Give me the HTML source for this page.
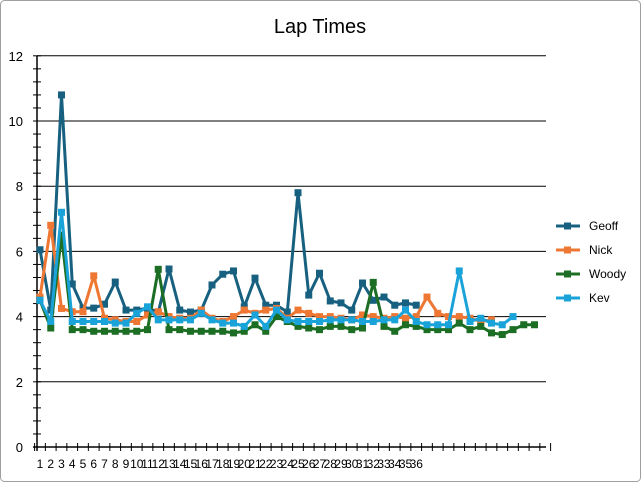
<!DOCTYPE html>
<html><head><meta charset="utf-8"><style>
html,body{margin:0;padding:0;background:#fff;}
#c{position:absolute;left:0;top:0;}
</style></head><body>
<svg id="c" width="641" height="482" xmlns="http://www.w3.org/2000/svg" font-family="Liberation Sans, sans-serif">
<rect x="0.5" y="0.5" width="640" height="481" rx="4" fill="#fff" stroke="#a0a0a0"/>
<text x="320" y="33" text-anchor="middle" font-size="20" fill="#000">Lap Times</text>
<g id="g"></g>
</svg>
<script>
var g=document.getElementById('g');var s='';
function Y(v){return 447-v*32.6;}
function X(i){return 40+(i-1)*10.75;}
for(var v=2;v<=12;v+=2){s+='<line x1="37" x2="546" y1="'+Y(v)+'" y2="'+Y(v)+'" stroke="#000" stroke-width="1"/>';}
for(var v=0;v<=12;v+=2){s+='<text x="23" y="'+(Y(v)+5)+'" text-anchor="end" font-size="13">'+v+'</text>';}
for(var k=0;k<=30;k++){var y=Y(k*0.4);s+='<line x1="33" x2="41" y1="'+y+'" y2="'+y+'" stroke="#000"/>';}
s+='<line x1="37" x2="37" y1="56" y2="451" stroke="#000" stroke-width="1.5"/>';
s+='<line x1="33" x2="546" y1="447" y2="447" stroke="#000" stroke-width="1.5"/>';
for(var i=0;i<=48;i++){var x=34.6+i*10.75;s+='<line x1="'+x+'" x2="'+x+'" y1="443" y2="451" stroke="#000"/>';}
for(var i=1;i<=36;i++){s+='<text x="'+X(i)+'" y="468" text-anchor="middle" font-size="12">'+i+'</text>';}
var D={
'#17607f':[6.05,4.2,10.8,5.0,4.26,4.26,4.38,5.06,4.2,4.2,4.26,4.14,5.46,4.2,4.14,4.2,4.97,5.3,5.4,4.3,5.18,4.35,4.35,4.14,7.8,4.66,5.33,4.48,4.42,4.2,5.03,4.5,4.6,4.35,4.42,4.35],
'#ee7733':[4.6,6.8,4.25,4.15,4.15,5.25,3.95,3.9,3.85,3.85,4.05,4.15,4.0,3.95,3.95,4.2,3.95,3.85,4.0,4.2,4.1,4.2,4.25,3.95,4.2,4.1,4.0,4.0,3.95,3.9,4.05,4.0,3.95,4.0,3.95,4.0,4.6,4.1,4.0,4.0,3.95,3.85,3.9],
'#1b6e23':[4.5,3.65,6.5,3.6,3.6,3.55,3.55,3.55,3.55,3.55,3.6,5.45,3.6,3.6,3.55,3.55,3.55,3.55,3.5,3.55,3.75,3.55,4.0,3.85,3.7,3.65,3.6,3.7,3.7,3.6,3.65,5.05,3.7,3.55,3.75,3.7,3.6,3.6,3.6,3.8,3.6,3.7,3.5,3.45,3.6,3.75,3.75],
'#1aa3d9':[4.5,3.85,7.2,3.85,3.85,3.85,3.85,3.8,3.8,4.1,4.3,3.9,3.9,3.9,3.9,4.1,3.9,3.8,3.8,3.7,4.05,3.7,4.2,3.9,3.85,3.85,3.85,3.9,3.9,3.9,3.85,3.85,3.9,3.9,4.2,3.85,3.75,3.75,3.75,5.4,3.85,3.95,3.8,3.75,4.0]};
var names=['Geoff','Nick','Woody','Kev'],li=0;
for(var c in D){var a=D[c],p=[];
for(var i=0;i<a.length;i++)p.push(X(i+1).toFixed(1)+','+Y(a[i]).toFixed(1));
s+='<polyline points="'+p.join(' ')+'" fill="none" stroke="'+c+'" stroke-width="3" stroke-linejoin="round"/>';
for(var i=0;i<a.length;i++)s+='<rect x="'+(X(i+1)-3.5)+'" y="'+(Y(a[i])-3.5)+'" width="7" height="7" fill="'+c+'"/>';
var ly=226+li*24;
s+='<line x1="556" x2="580" y1="'+ly+'" y2="'+ly+'" stroke="'+c+'" stroke-width="3"/><rect x="564" y="'+(ly-3.5)+'" width="7" height="7" fill="'+c+'"/>';
s+='<text x="589" y="'+(ly+4)+'" font-size="12">'+names[li]+'</text>';li++;}
g.innerHTML=s;
</script>
</body></html>
